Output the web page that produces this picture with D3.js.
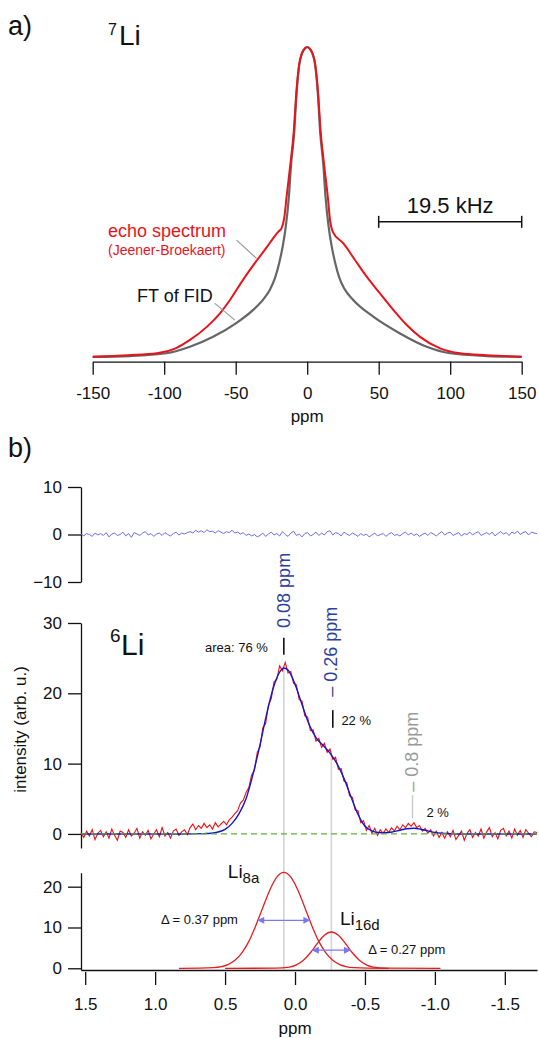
<!DOCTYPE html>
<html lang="en">
<head>
<meta charset="UTF-8">
<title>7Li and 6Li NMR spectra</title>
<script src="https://cdn.jsdelivr.net/npm/d3@7"></script>
<style>
  body, html { margin: 0; padding: 0; background: #fff; }
  svg { display: block; font-family: "Liberation Sans", Arial, Helvetica, sans-serif; }
  .axis text { font-family: "Liberation Sans", Arial, sans-serif; font-size: 17px; fill: #111; }
  .axis path, .axis line { stroke: #111; stroke-width: 1.3; }
  .lbl { fill: #111; }
</style>
</head>
<body>
<svg id="chart" width="539" height="1038"></svg>
<script>
// ---------- data, panel a (7Li) ----------
const ticksA = [-150, -100, -50, 0, 50, 100, 150];

const echoPpm = [-150, -125, -105, -92, -82, -70, -61, -54, -45, -35, -28, -24, -20, -18, -16, -14.4, -11.7, -9.3, -7.8, -5.5, -4, -2.5, 0,
                 2.5, 4, 5.5, 7.8, 9.3, 11.7, 14.4, 16, 18, 25.2, 33.4, 41.6, 50.9, 60.2, 69.6, 78.9, 92.9, 106.9, 125.6, 150];
const echoInt = [0.1, 0.6, 1.2, 2.8, 5.5, 9.8, 14.1, 18.4, 24.8, 31.3, 35.6, 38.2, 40.5, 41.5, 45, 51.7, 62.5, 73.2, 84, 94.7, 97.5, 99, 100,
                 99, 97.5, 94.7, 84, 73.2, 62.5, 51.7, 44, 40.3, 36.7, 31.3, 25.9, 20.5, 15.2, 10.3, 6.5, 2.8, 1.2, 0.6, 0.1];

const fidPpm = [-150, -124, -98.5, -82, -65.8, -49.4, -37.8, -30, -26, -22.5, -19.5, -17, -15, -12.8, -11.3, -9, -7.6, -5.4, -4, -2.5, 0,
                2.5, 4, 5.4, 7.6, 9, 11.3, 12.8, 15, 17, 19.5, 22.5, 26, 32.2, 46.2, 64.9, 83.6, 99.9, 125.6, 150];
const fidInt = [0.05, 0.3, 1.2, 3.3, 6.5, 11, 15.2, 19, 21.8, 25.5, 30.5, 36, 42, 51.7, 62, 73, 84, 94.7, 97.5, 99, 100,
                99, 97.5, 94.7, 84, 73, 62, 51.7, 42, 36, 30.5, 25.5, 22, 18.4, 13, 7.6, 3.3, 1.2, 0.3, 0.05];

// ---------- data, panel b (6Li) ----------
const ticksB = [1.5, 1.0, 0.5, 0.0, -0.5, -1.0, -1.5];
const ppmStart = 1.53, ppmStep = -0.02;   // sampling of the measured spectrum

const measured = [
  0.2, -0.5, 0.4, -0.3, 0.6, -0.8, 0.1, 0.5, -0.4, 0.3, -0.6, 0.7, -0.2, -0.9, 0.4, 0.2, -0.5, 0.6, -0.3, 0.1,
  0.8, -0.6, 0.3, -0.2, 0.5, -0.7, 0.0, 0.6, -0.4, 0.9, -0.3, 0.2, -0.6, 0.4, 0.7, -0.2, 0.3, 0.6, -0.1,
  0.9, 1.4, 0.6, 1.2, 0.8, 1.5, 0.9, 1.3, 0.7, 1.6, 1.0, 1.4, 1.8, 1.3, 2.0, 2.4,
  2.9, 3.3, 4.4, 4.8, 5.9, 6.6, 8.4, 9.1, 11.6, 12.4, 15.1, 15.7, 18.3, 19.2, 21.6, 22.0, 23.9, 23.2, 24.4, 22.9,
  23.1, 21.4, 21.2, 19.1, 18.9, 16.8, 16.6, 14.7, 14.8, 13.2, 13.6, 12.3, 12.9, 11.6, 12.1, 10.6, 10.9, 9.2, 9.3, 7.5,
  7.3, 5.4, 5.2, 3.4, 3.3, 1.6, 1.9, 0.5, 1.2, 0.1, 0.8, -0.2, 0.6, 0.1, 0.7, 0.2, 0.9, 0.4, 1.1, 0.6,
  1.3, 0.9, 1.5, 1.1, 1.6, 0.9, 1.2, 0.4, 0.8, 0.1, 0.6, -0.3, 0.4, -0.5, 0.2, -0.6,
  0.3, -0.4, 0.5, -0.8, -0.2, 0.4, -0.9, 0.1, 0.6, -0.5, 0.2, -0.3, 0.7, -0.6, 0.3, 0.9, -0.4, 0.2, -0.7, 0.5,
  0.8, -0.3, 0.4, -0.6, 0.7, -0.2, 0.5, -0.5, 0.6, 0.1, -0.4, 0.3, 0.2
];

const residual = [
  0.1, -0.3, 0.2, 0.0, -0.4, 0.3, -0.1, 0.2, -0.2, 0.4, -0.5, 0.1, 0.3, -0.2, 0.0, 0.5, -0.3, 0.2, -0.6, 0.4,
  0.1, -0.2, 0.3, 0.6, -0.1, 0.2, -0.4, 0.1, 0.3, -0.2, 0.4, 0.0, -0.3, 0.2, 0.5, -0.1, 0.3, 0.1, 0.4,
  0.6, 0.3, 0.9, 0.5, 0.8, 0.4, 1.0, 0.6, 0.7, 0.3, 0.8, 0.5, 0.2, 0.6, 0.4, 0.9, 0.3, 0.5, 0.1, 0.4, -0.2, 0.1,
  -0.3, 0.0, -0.5, -0.2, 0.3, -0.4, 0.1, 0.5, -0.1, 0.2, -0.3, 0.6, 0.0, -0.4, 0.3, 0.7, -0.2, 0.1, -0.5, 0.2,
  0.4, -0.3, 0.0, 0.5, -0.2, 0.3, -0.1, 0.6, 0.8, -0.1, 0.4, 0.2, -0.3, 0.5, 0.1, -0.2, 0.3, 0.0, -0.4, 0.2,
  -0.2, 0.1, -0.5, -0.1, 0.3, -0.3, 0.0, 0.2, -0.4, 0.1, 0.4, -0.2, 0.0, -0.3, 0.2, 0.5, -0.1, 0.3, -0.2, 0.1,
  -0.4, 0.0, 0.3, -0.2, 0.4, 0.1, -0.3, 0.2, 0.6, -0.1, 0.3, 0.5, -0.2, 0.1, 0.4, -0.3, 0.2, 0.0, 0.5, -0.1,
  0.3, 0.6, -0.2, 0.1, 0.4, 0.0, 0.5, -0.3, 0.2, 0.6, 0.1, 0.4, -0.2, 0.5, 0.2, 0.7, 0.0, 0.4, 0.6, -0.1,
  0.5, 0.3, 0.2
];

const fitPpm = [1.53, 0.8, 0.65, 0.6, 0.55, 0.5, 0.45, 0.4, 0.35, 0.3, 0.25, 0.2, 0.15, 0.1, 0.08, 0.05, 0, -0.05, -0.1, -0.15,
                -0.2, -0.25, -0.3, -0.35, -0.4, -0.45, -0.5, -0.55, -0.6, -0.65, -0.7, -0.75, -0.8, -0.85, -0.9, -0.95, -1.0, -1.05, -1.1, -1.2, -1.73];
const fitInt = [0, 0, 0.05, 0.1, 0.27, 0.66, 1.5, 2.9, 5.0, 8.5, 12.7, 17.3, 21.1, 23.3, 23.6, 23.3, 21.3, 18.4, 15.6, 13.7,
                12.6, 11.5, 10.0, 7.9, 5.3, 2.8, 1.1, 0.45, 0.2, 0.17, 0.3, 0.53, 0.74, 0.8, 0.67, 0.44, 0.22, 0.09, 0.03, 0, 0];

const li8aPpm = [0.83, 0.68, 0.58, 0.48, 0.43, 0.38, 0.33, 0.28, 0.23, 0.18, 0.13, 0.08, 0.03, -0.02, -0.07, -0.12, -0.17, -0.22, -0.27, -0.32, -0.42, -0.52, -0.67];
const li8aInt = [0, 0.02, 0.15, 0.92, 1.97, 3.8, 6.6, 10.5, 14.9, 19.2, 22.35, 23.5, 22.35, 19.2, 14.9, 10.5, 6.6, 3.8, 1.97, 0.92, 0.15, 0.02, 0];
const li16dPpm = [0.5, 0.14, 0.04, -0.01, -0.06, -0.11, -0.16, -0.21, -0.26, -0.31, -0.36, -0.41, -0.46, -0.51, -0.56, -0.66, -1.04];
const li16dInt = [0, 0.02, 0.3, 0.84, 1.96, 3.8, 6.1, 8.1, 8.9, 8.1, 6.1, 3.8, 1.96, 0.84, 0.3, 0.02, 0];

// peak positions, widths, areas
const peakPpm = [0.08, -0.26, -0.84];
const peakTop = [23.6, 11.2];
const peakArea = ["area: 76 %", "22 %", "2 %"];
const fwhm = [0.37, 0.27];
const compHeight = [23.5, 8.9];

// ---------- drawing ----------
const svg = d3.select("#chart");

const defs = svg.append("defs");
defs.append("marker").attr("id", "head")
  .attr("viewBox", "0 0 10 10").attr("refX", 9).attr("refY", 5)
  .attr("markerWidth", 11).attr("markerHeight", 7).attr("markerUnits", "userSpaceOnUse")
  .attr("orient", "auto-start-reverse")
  .append("path").attr("d", "M0,0 L10,5 L0,10 Z").attr("fill", "#7878f2");

// panel a
const xA = d3.scaleLinear().domain([-150, 150]).range([92.7, 521.7]);
const yA = d3.scaleLinear().domain([0, 100]).range([357, 47]);

svg.append("g").attr("class", "axis").attr("transform", "translate(0,361.7)")
  .call(d3.axisBottom(xA).tickValues(ticksA).tickSize(13).tickSizeOuter(0).tickPadding(12).tickFormat(d => String(d)));

svg.append("text").attr("class", "lbl").attr("x", xA(0)).attr("y", 422)
  .attr("text-anchor", "middle").attr("font-size", 17).text("ppm");

const lineA = d3.line().x(d => xA(d[0])).y(d => yA(d[1])).curve(d3.curveMonotoneX);
svg.append("path").datum(d3.zip(fidPpm, fidInt)).attr("d", lineA)
  .attr("fill", "none").attr("stroke", "#666").attr("stroke-width", 2.2);
svg.append("path").datum(d3.zip(echoPpm, echoInt)).attr("d", lineA)
  .attr("fill", "none").attr("stroke", "#e8141c").attr("stroke-width", 2);

// leader lines
svg.append("line").attr("x1", xA(-49.4)).attr("y1", yA(37.7)).attr("x2", xA(-35.4)).attr("y2", yA(31.8))
  .attr("stroke", "#999").attr("stroke-width", 1.2);
svg.append("line").attr("x1", xA(-64.6)).attr("y1", yA(17.3)).attr("x2", xA(-50.6)).attr("y2", yA(11.9))
  .attr("stroke", "#999").attr("stroke-width", 1.2);

svg.append("text").attr("x", 108).attr("y", 237).attr("font-size", 18).attr("fill", "#e8141c").text("echo spectrum");
svg.append("text").attr("x", 108).attr("y", 255).attr("font-size", 14).attr("fill", "#e8141c").text("(Jeener-Broekaert)");
svg.append("text").attr("class", "lbl").attr("x", 137).attr("y", 302).attr("font-size", 18).text("FT of FID");

// scale bar 50..150 ppm
const barY = yA(43.6);
svg.append("line").attr("x1", xA(50)).attr("x2", xA(150)).attr("y1", barY).attr("y2", barY).attr("stroke", "#111").attr("stroke-width", 1.5);
[50, 150].forEach(p => svg.append("line").attr("x1", xA(p)).attr("x2", xA(p)).attr("y1", barY - 6).attr("y2", barY + 6)
  .attr("stroke", "#111").attr("stroke-width", 1.5));
svg.append("text").attr("class", "lbl").attr("x", xA(100)).attr("y", 213).attr("text-anchor", "middle")
  .attr("font-size", 22).text("19.5 kHz");

svg.append("text").attr("class", "lbl").attr("x", 8).attr("y", 35).attr("font-size", 27).text("a)");
svg.append("text").attr("class", "lbl").attr("x", 108).attr("y", 35).attr("font-size", 16).text("7");
svg.append("text").attr("class", "lbl").attr("x", 119).attr("y", 45).attr("font-size", 28).text("Li");

// panel b
svg.append("text").attr("class", "lbl").attr("x", 8).attr("y", 457).attr("font-size", 27).text("b)");

const xB = d3.scaleLinear().domain([1.53, -1.73]).range([81, 537]);
const yR = d3.scaleLinear().domain([-10, 10]).range([582, 487]);
const yM = d3.scaleLinear().domain([-2, 30]).range([848, 623]);
const yB = d3.scaleLinear().domain([-0.42, 23.43]).range([970, 872.7]);

const grid = measured.map((v, i) => ppmStart + i * ppmStep);

// residual
svg.append("g").attr("class", "axis").attr("transform", "translate(81,0)")
  .call(d3.axisLeft(yR).tickValues([-10, 0, 10]).tickSize(13).tickSizeOuter(0).tickPadding(6));
svg.append("path").datum(residual.map((v, i) => [ppmStart + i * ppmStep, v]))
  .attr("d", d3.line().x(d => xB(d[0])).y(d => yR(d[1])))
  .attr("fill", "none").attr("stroke", "#6c6cf4").attr("stroke-width", 1);

// main spectrum
svg.append("g").attr("class", "axis").attr("transform", "translate(81,0)")
  .call(d3.axisLeft(yM).tickValues([0, 10, 20, 30]).tickSize(13).tickSizeOuter(0).tickPadding(6));

svg.append("text").attr("class", "lbl").attr("transform", `translate(25.5,${729.5}) rotate(-90)`)
  .attr("text-anchor", "middle").attr("font-size", 17).text("intensity (arb. u.)");

// grey position lines through both lower panels
peakPpm.slice(0, 2).forEach((p, k) => {
  svg.append("line").attr("x1", xB(p)).attr("x2", xB(p)).attr("y1", yM(peakTop[k])).attr("y2", yB(-0.3))
    .attr("stroke", "#d4d4d4").attr("stroke-width", 1.6);
});

const lineM = d3.line().x(d => xB(d[0])).y(d => yM(d[1]));
svg.append("path").datum(d3.zip(grid, measured)).attr("d", lineM)
  .attr("fill", "none").attr("stroke", "#ee1111").attr("stroke-width", 1.1);
svg.append("path").datum(d3.zip(fitPpm, fitInt)).attr("d", lineM.curve(d3.curveMonotoneX))
  .attr("fill", "none").attr("stroke", "#1414c8").attr("stroke-width", 1.4);
svg.append("line").attr("x1", xB(1.53)).attr("x2", xB(-1.73)).attr("y1", yM(0)).attr("y2", yM(0))
  .attr("stroke", "#5fae3a").attr("stroke-width", 1.3).attr("stroke-dasharray", "6,4");

svg.append("text").attr("class", "lbl").attr("x", 110).attr("y", 642).attr("font-size", 19).text("6");
svg.append("text").attr("class", "lbl").attr("x", 121).attr("y", 655).attr("font-size", 30).text("Li");

// peak labels
const blue = "#2d3f9e";
svg.append("text").attr("transform", `translate(${xB(peakPpm[0]) + 6.5},${yM(29.3)}) rotate(-90)`)
  .attr("font-size", 18).attr("fill", blue).text("0.08 ppm");
svg.append("text").attr("transform", `translate(${xB(peakPpm[1]) + 6},${yM(19.5)}) rotate(-90)`)
  .attr("font-size", 18).attr("fill", blue).text("\u2013 0.26 ppm");
svg.append("text").attr("transform", `translate(${xB(peakPpm[2]) + 5.5},${yM(6.0)}) rotate(-90)`)
  .attr("font-size", 18).attr("fill", "#9a9a9a").text("\u2013 0.8 ppm");

svg.append("line").attr("x1", xB(peakPpm[0])).attr("x2", xB(peakPpm[0])).attr("y1", yM(25.5)).attr("y2", yM(27.9))
  .attr("stroke", "#111").attr("stroke-width", 1.6);
svg.append("line").attr("x1", xB(-0.27)).attr("x2", xB(-0.27)).attr("y1", yM(15.1)).attr("y2", yM(17.6))
  .attr("stroke", "#111").attr("stroke-width", 1.6);
svg.append("line").attr("x1", xB(peakPpm[2])).attr("x2", xB(peakPpm[2])).attr("y1", yM(2.2)).attr("y2", yM(5.5))
  .attr("stroke", "#c8c8c8").attr("stroke-width", 1.4);

svg.append("text").attr("class", "lbl").attr("x", xB(peakPpm[0]) - 16).attr("y", yM(25.9)).attr("text-anchor", "end")
  .attr("font-size", 13).text(peakArea[0]);
svg.append("text").attr("class", "lbl").attr("x", xB(peakPpm[1]) + 10).attr("y", yM(15.5))
  .attr("font-size", 13).text(peakArea[1]);
svg.append("text").attr("class", "lbl").attr("x", xB(peakPpm[2]) + 14).attr("y", yM(2.4))
  .attr("font-size", 13).text(peakArea[2]);

// components
svg.append("g").attr("class", "axis").attr("transform", "translate(81,0)")
  .call(d3.axisLeft(yB).tickValues([0, 10, 20]).tickSize(13).tickSizeOuter(0).tickPadding(6));
svg.append("g").attr("class", "axis").attr("transform", "translate(0,970)")
  .call(d3.axisBottom(xB).tickValues(ticksB).tickSize(15).tickSizeOuter(0).tickPadding(13).tickFormat(d => d.toFixed(1)))
  .call(g => g.selectAll(".tick line").attr("y1", 2));
svg.append("text").attr("class", "lbl").attr("x", xB(0)).attr("y", 1034)
  .attr("text-anchor", "middle").attr("font-size", 17).text("ppm");

const lineB = d3.line().x(d => xB(d[0])).y(d => yB(d[1])).curve(d3.curveMonotoneX);
[[li8aPpm, li8aInt], [li16dPpm, li16dInt]].forEach(c => {
  svg.append("path").datum(d3.zip(c[0], c[1])).attr("d", lineB)
    .attr("fill", "none").attr("stroke", "#e41e1e").attr("stroke-width", 1.3);
});

// FWHM arrows
const arrY = compHeight.map(h => yB(h / 2));
[0, 1].forEach(k => {
  const c = k === 0 ? peakPpm[0] : peakPpm[1];
  svg.append("line")
    .attr("x1", xB(c + fwhm[k] / 2)).attr("x2", xB(c - fwhm[k] / 2))
    .attr("y1", arrY[k]).attr("y2", arrY[k])
    .attr("stroke", "#7878f2").attr("stroke-width", 1.4)
    .attr("marker-start", "url(#head)").attr("marker-end", "url(#head)");
});
svg.append("text").attr("class", "lbl").attr("x", xB(peakPpm[0] + fwhm[0] / 2) - 20).attr("y", arrY[0] + 4)
  .attr("text-anchor", "end").attr("font-size", 13).text("\u0394 = 0.37 ppm");
svg.append("text").attr("class", "lbl").attr("x", xB(peakPpm[1] - fwhm[1] / 2) + 18).attr("y", arrY[1] + 4)
  .attr("font-size", 13).text("\u0394 = 0.27 ppm");

const li8 = svg.append("text").attr("class", "lbl").attr("x", xB(peakPpm[0]) - 56).attr("y", 878).attr("font-size", 19);
li8.append("tspan").text("Li");
li8.append("tspan").attr("font-size", 15).attr("dy", 5).text("8a");
const li16 = svg.append("text").attr("class", "lbl").attr("x", xB(peakPpm[1]) + 8.5).attr("y", 925).attr("font-size", 19);
li16.append("tspan").text("Li");
li16.append("tspan").attr("font-size", 15).attr("dy", 5).text("16d");
</script>
</body>
</html>
